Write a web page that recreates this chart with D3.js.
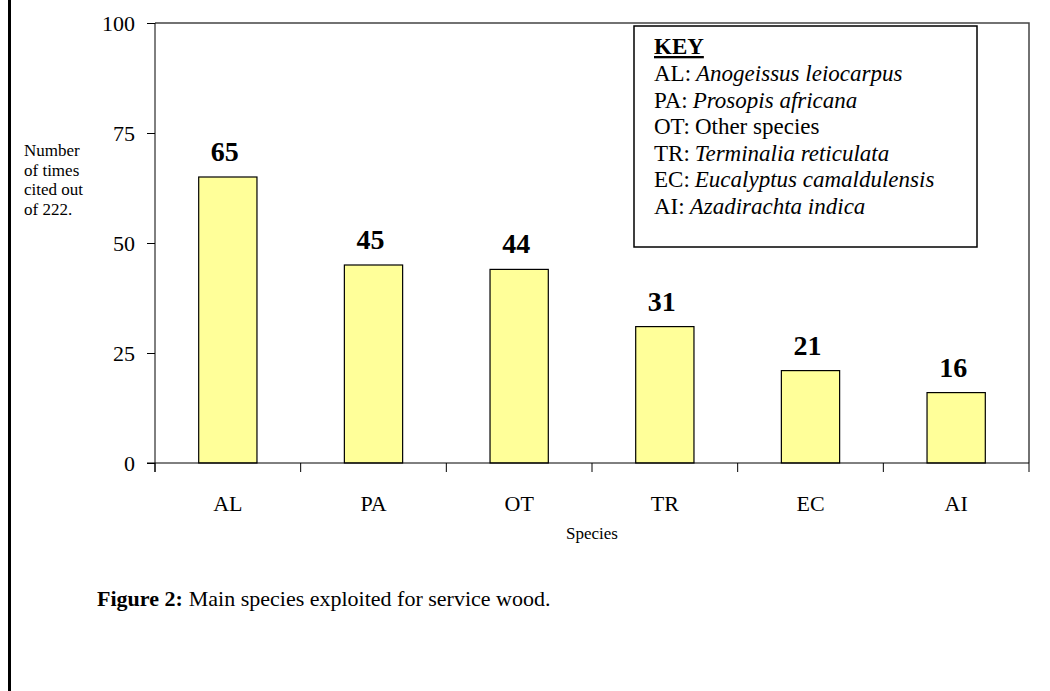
<!DOCTYPE html>
<html>
<head>
<meta charset="utf-8">
<script src="https://cdn.jsdelivr.net/npm/d3@7"></script>
<style>
  html, body { margin: 0; padding: 0; background: #fff; }
  svg { display: block; }
</style>
</head>
<body>
<svg id="chart" width="1050" height="691"></svg>
<script>
const categories = ["AL", "PA", "OT", "TR", "EC", "AI"];
const values = [65, 45, 44, 31, 21, 16];
const yTicks = [0, 25, 50, 75, 100];
const keyCodes = ["AL", "PA", "OT", "TR", "EC", "AI"];
const keyNames = ["Anogeissus leiocarpus", "Prosopis africana", "Other species", "Terminalia reticulata", "Eucalyptus camaldulensis", "Azadirachta indica"];
const keyItalic = [true, true, false, true, true, true];
const yTitleLines = ["Number", "of times", "cited out", "of 222."];
const captionBold = "Figure 2:";
const captionText = "Main species exploited for service wood.";

const FONT = "'Liberation Serif', 'Times New Roman', serif";
const svg = d3.select("#chart");
const plot = { left: 155, right: 1029, top: 23, bottom: 463 };

const x = d3.scaleBand().domain(categories).range([plot.left, plot.right]).padding(0);
const y = d3.scaleLinear().domain([0, 100]).range([plot.bottom, plot.top]);

function txt(sel) { return sel.style("font-family", FONT).attr("fill", "#000"); }

// page left border
svg.append("rect").attr("x", 8).attr("y", 0).attr("width", 3).attr("height", 691).attr("fill", "#000");

// plot frame (top and right)
svg.append("path")
  .attr("d", `M${plot.left},${plot.top}H${plot.right}V${plot.bottom}`)
  .attr("fill", "none").attr("stroke", "#444").attr("stroke-width", 1.5);

// bars
const barFrac = 0.4;
svg.append("g").selectAll("rect").data(values).join("rect")
  .attr("x", (d, i) => x(categories[i]) + x.bandwidth() * (1 - barFrac) / 2)
  .attr("y", d => y(d))
  .attr("width", x.bandwidth() * barFrac)
  .attr("height", d => y(0) - y(d))
  .attr("fill", "#ffff99")
  .attr("stroke", "#000").attr("stroke-width", 1.2);

// value labels
txt(svg.append("g").selectAll("text").data(values).join("text"))
  .attr("x", (d, i) => x(categories[i]) + x.bandwidth() / 2 - 3)
  .attr("y", d => y(d) - 16)
  .attr("text-anchor", "middle")
  .attr("font-size", 28).attr("font-weight", "bold")
  .text(d => d);

// y axis
const yAxis = svg.append("g").attr("transform", `translate(${plot.left},0)`)
  .call(d3.axisLeft(y).tickValues(yTicks).tickSize(8).tickPadding(12).tickFormat(d3.format("d")));
yAxis.select(".domain").attr("d", `M0,${plot.top}V${plot.bottom + 9}`).attr("stroke", "#000");
yAxis.selectAll(".tick line").attr("stroke", "#000");
txt(yAxis.selectAll(".tick text")).attr("font-size", 22);

// x axis with ticks at category boundaries
const xAxis = svg.append("g").attr("transform", `translate(0,${plot.bottom})`);
xAxis.append("line").attr("x1", plot.left - 8).attr("x2", plot.right).attr("y1", 0).attr("y2", 0).attr("stroke", "#000");
const boundaries = categories.map(c => x(c)).concat([x(categories[categories.length - 1]) + x.bandwidth()]);
xAxis.selectAll("line.b").data(boundaries).join("line").attr("class", "b")
  .attr("x1", d => d).attr("x2", d => d).attr("y1", 0).attr("y2", 9).attr("stroke", "#000");
txt(xAxis.selectAll("text").data(categories).join("text"))
  .attr("x", d => x(d) + x.bandwidth() / 2)
  .attr("y", 48)
  .attr("text-anchor", "middle").attr("font-size", 22)
  .text(d => d);

// x title
txt(svg.append("text")).attr("x", (plot.left + plot.right) / 2).attr("y", 539)
  .attr("text-anchor", "middle").attr("font-size", 17).text("Species");

// y title
txt(svg.append("g").selectAll("text").data(yTitleLines).join("text"))
  .attr("x", 24).attr("y", (d, i) => 156 + i * 19.6)
  .attr("font-size", 17).text(d => d);

// legend box
const key = svg.append("g");
const rowY = i => 81 + i * 26.6;
key.append("rect").attr("x", 634).attr("y", 26).attr("width", 343).attr("height", 221)
  .attr("fill", "#fff").attr("stroke", "#000").attr("stroke-width", 1.5);
txt(key.append("text")).attr("x", 654).attr("y", 54)
  .attr("font-size", 23).attr("font-weight", "bold")
  .attr("text-decoration", "underline").text("KEY");
const codeTexts = txt(key.selectAll("text.code").data(keyCodes).join("text").attr("class", "code"))
  .attr("x", 654).attr("y", (d, i) => rowY(i)).attr("font-size", 23)
  .text(d => d + ":");
codeTexts.each(function (d, i) {
  const w = this.getComputedTextLength();
  txt(key.append("text"))
    .attr("x", 654 + w + 5).attr("y", rowY(i)).attr("font-size", 23)
    .style("font-style", keyItalic[i] ? "italic" : "normal")
    .text(keyNames[i]);
});

// caption
const capB = txt(svg.append("text")).attr("x", 97).attr("y", 606).attr("font-size", 22)
  .attr("font-weight", "bold").text(captionBold);
const capW = capB.node().getComputedTextLength();
txt(svg.append("text")).attr("x", 97 + capW + 6).attr("y", 606).attr("font-size", 22)
  .text(captionText);
</script>
</body>
</html>
